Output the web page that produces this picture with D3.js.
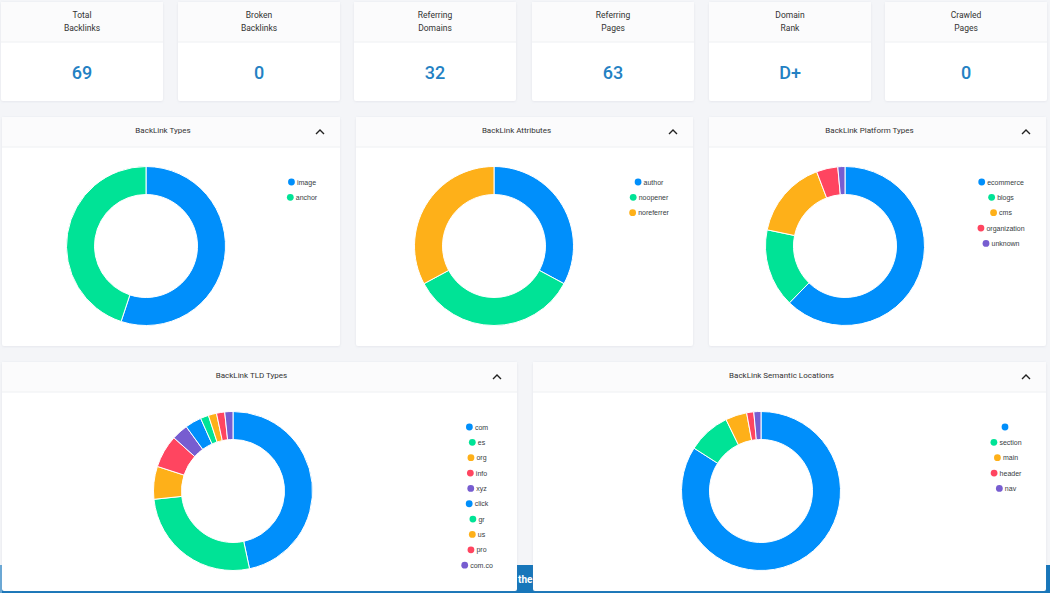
<!DOCTYPE html>
<html>
<head>
<meta charset="utf-8">
<script src="https://cdn.jsdelivr.net/npm/d3@7"></script>
<style>
  body { margin: 0; background: #f4f5f8; overflow: hidden; }
  svg { display: block; }
</style>
</head>
<body>
<script>
// summary numbers across the top
var statTitles = [['Total', 'Backlinks'], ['Broken', 'Backlinks'], ['Referring', 'Domains'],
  ['Referring', 'Pages'], ['Domain', 'Rank'], ['Crawled', 'Pages']];
var statValues = ['69', '0', '32', '63', 'D+', '0'];

// donut data
var typeLabels = ['image', 'anchor'];
var typeValues = [38, 31];
var attrLabels = ['author', 'noopener', 'noreferrer'];
var attrValues = [23, 24, 23];
var platformLabels = ['ecommerce', 'blogs', 'cms', 'organization', 'unknown'];
var platformValues = [43, 11, 11, 3, 1];
var tldLabels = ['com', 'es', 'org', 'info', 'xyz', 'click', 'gr', 'us', 'pro', 'com.co'];
var tldValues = [28, 16, 4, 4, 2, 2, 1, 1, 1, 1];
var semLabels = ['', 'section', 'main', 'header', 'nav'];
var semValues = [58, 6, 3, 1, 1];

var palette = ['#008ffb', '#00e396', '#feb019', '#ff4560', '#775dd0'];

var svg = d3.select('body').append('svg').attr('width', 1050).attr('height', 593);

var defs = svg.append('defs');
var f = defs.append('filter').attr('id', 'shadow').attr('x', '-5%').attr('y', '-5%').attr('width', '110%').attr('height', '110%');
f.append('feDropShadow').attr('dx', 0).attr('dy', 0.5).attr('stdDeviation', 1.2)
  .attr('flood-color', '#8a93a6').attr('flood-opacity', 0.18);

// blue footer strip peeking behind the cards
svg.append('rect').attr('x', 0).attr('y', 565).attr('width', 1050).attr('height', 28).attr('fill', '#1776ba');
svg.append('rect').attr('x', 0).attr('y', 565).attr('width', 2).attr('height', 28).attr('fill', '#6aa9d6');
svg.append('text').attr('x', 518).attr('y', 583).attr('fill', '#fff')
  .style('font', 'bold 10px Roboto, sans-serif').text('the');

//draws a card with a grey header band
var card = function(x, y, w, h, hh) {
  var g = svg.append('g').attr('transform', 'translate(' + x + ',' + y + ')');
  g.append('rect').attr('width', w).attr('height', h).attr('rx', 2).attr('fill', '#fff')
    .attr('filter', 'url(#shadow)');
  g.append('rect').attr('width', w).attr('height', hh).attr('fill', '#fbfbfc');
  g.append('line').attr('x1', 0).attr('x2', w).attr('y1', hh).attr('y2', hh)
    .attr('stroke', '#eef0f3').attr('stroke-width', 1);
  return g;
};

// top stat cards
var statX = [1, 178, 354, 532, 709, 885];
statTitles.forEach(function(t, i) {
  var g = card(statX[i], 2, 162, 99, 40);
  g.selectAll('text.t').data(t).enter().append('text').attr('class', 't')
    .attr('x', 81).attr('y', function(d, j) { return 16 + j * 12.5; })
    .attr('text-anchor', 'middle').attr('fill', '#333')
    .style('font', '8.5px Roboto, sans-serif').text(function(d) { return d; });
  g.append('text').attr('x', 81).attr('y', 77).attr('text-anchor', 'middle')
    .attr('fill', '#2381c3').style('font', '500 18px Roboto, sans-serif').text(statValues[i]);
});

// donut panels
var panels = [
  {title: 'BackLink Types', labels: typeLabels, values: typeValues, x: 2, y: 117, w: 338, cx: 144, lx: 300},
  {title: 'BackLink Attributes', labels: attrLabels, values: attrValues, x: 356, y: 117, w: 337, cx: 138, lx: 293},
  {title: 'BackLink Platform Types', labels: platformLabels, values: platformValues, x: 709, y: 117, w: 337, cx: 136, lx: 292},
  {title: 'BackLink TLD Types', labels: tldLabels, values: tldValues, x: 2, y: 362, w: 515, cx: 231, lx: 475},
  {title: 'BackLink Semantic Locations', labels: semLabels, values: semValues, x: 533, y: 362, w: 513, cx: 228, lx: 473}
];

var pie = d3.pie().sort(null).value(function(d) { return d; });
var arc = d3.arc().innerRadius(51.5).outerRadius(79.5);

panels.forEach(function(p) {
  var g = card(p.x, p.y, p.w, 229, 30);
  g.append('text').attr('x', p.w / 2 - 8).attr('y', 16).attr('text-anchor', 'middle')
    .attr('fill', '#333').style('font', '8px Roboto, sans-serif').text(p.title);
  // collapse chevron
  var cvx = p.w - 20;
  g.append('path').attr('d', 'M' + (cvx - 4) + ',' + 17 + 'L' + cvx + ',' + 13 + 'L' + (cvx + 4) + ',' + 17)
    .attr('fill', 'none').attr('stroke', '#222').attr('stroke-width', 1.4);

  var color = d3.scaleOrdinal().domain(p.labels).range(palette);

  var donut = g.append('g').attr('transform', 'translate(' + p.cx + ',' + 129 + ')');
  donut.selectAll('path').data(pie(p.values)).enter().append('path')
    .attr('d', arc)
    .attr('fill', function(d, i) { return color(p.labels[i]); })
    .attr('stroke', '#fff').attr('stroke-width', 1);

  // legend, each row centred on lx
  var leg = g.selectAll('g.leg').data(p.labels).enter().append('g').attr('class', 'leg')
    .attr('transform', function(d, i) { return 'translate(0,' + (65 + i * 15.35) + ')'; });
  leg.each(function(d, i) {
    var row = d3.select(this);
    var txt = row.append('text').attr('y', 2.5).attr('fill', '#373d3f')
      .style('font', '7px "Liberation Sans", Arial, sans-serif').text(d);
    var tw = d ? txt.node().getComputedTextLength() : 0;
    var total = 7 + 2 + tw;
    var x0 = p.lx - total / 2;
    row.append('circle').attr('cx', x0 + 3.5).attr('cy', 0).attr('r', 3.4)
      .attr('fill', color(d));
    txt.attr('x', x0 + 9);
  });
});
</script>
</body>
</html>
